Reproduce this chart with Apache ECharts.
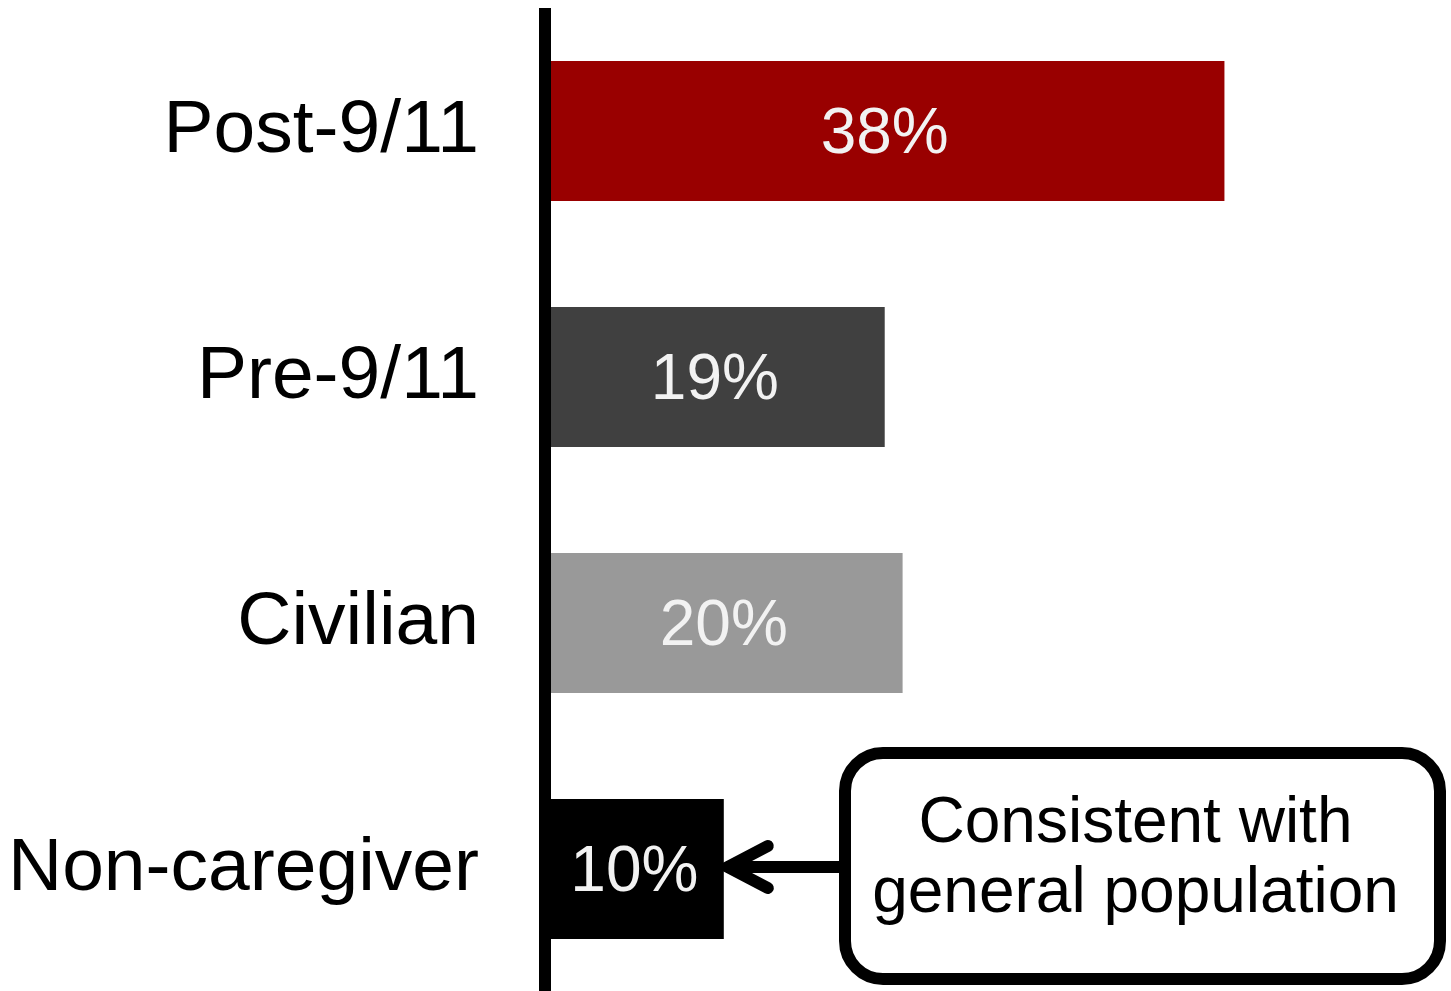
<!DOCTYPE html>
<html>
<head>
<meta charset="utf-8">
<script src="https://cdn.jsdelivr.net/npm/echarts@6/dist/echarts.min.js"></script>
<style>
  html, body { margin: 0; padding: 0; background: #fff; }
  #chart { width: 1451px; height: 991px; }
</style>
</head>
<body>
<div id="chart"></div>
<script>
// data
const categories = ['Post-9/11', 'Pre-9/11', 'Civilian', 'Non-caregiver'];
const values = [38, 19, 20, 10];
const barColors = ['#990000', '#404040', '#999999', '#000000'];
const noteLines = ['Consistent with', 'general population'];
const noteTarget = 'Non-caregiver';

const font = '"Liberation Sans", Arial, sans-serif';

const chart = echarts.init(document.getElementById('chart'));

chart.setOption({
  animation: false,
  backgroundColor: '#fff',
  grid: { left: 545, right: 12, top: 8, height: 984, outerBoundsMode: 'none' },
  xAxis: {
    type: 'value', min: 0, max: 50, show: false,
    splitLine: { show: false }
  },
  yAxis: {
    type: 'category',
    inverse: true,
    z: 5,
    data: categories,
    axisLine: { lineStyle: { color: '#000', width: 12, cap: 'butt' } },
    axisTick: { show: false },
    splitLine: { show: false },
    axisLabel: { fontSize: 75, color: '#000', fontFamily: font, margin: 66 }
  },
  series: [{
    type: 'bar',
    barWidth: 140,
    data: values.map((v, i) => ({ value: v, itemStyle: { color: barColors[i] } })),
    label: {
      show: true,
      position: 'inside',
      offset: [0, 4],
      formatter: '{c}%',
      fontSize: 64,
      color: '#f2f2f2',
      fontFamily: font
    }
  }]
});

// callout box with arrow pointing at the Non-caregiver bar end
const tip = chart.convertToPixel({ gridIndex: 0 }, [values[categories.indexOf(noteTarget)], noteTarget]);
const boxX = 845, boxY = 753, boxW = 595, boxH = 226;
const ax = tip[0] + 4, ay = tip[1] - 2;

chart.setOption({
  graphic: [
    {
      type: 'rect',
      shape: { x: boxX, y: boxY, width: boxW, height: boxH, r: 38 },
      style: { fill: '#fff', stroke: '#000', lineWidth: 12 },
      z: 10
    },
    {
      type: 'text',
      x: boxX + boxW / 2 - 7,
      y: boxY + boxH / 2 - 7,
      style: {
        text: noteLines.join('\n'),
        fontSize: 64,
        lineHeight: 70,
        fontFamily: font,
        fill: '#000',
        align: 'center',
        verticalAlign: 'middle'
      },
      z: 11
    },
    {
      type: 'polyline',
      shape: { points: [[boxX, ay], [ax + 6, ay]] },
      style: { stroke: '#000', lineWidth: 12, fill: null },
      z: 10
    },
    {
      type: 'polyline',
      shape: { points: [[ax + 40, ay - 21], [ax, ay], [ax + 40, ay + 21]] },
      style: { stroke: '#000', lineWidth: 12, fill: null, lineCap: 'round', lineJoin: 'miter' },
      z: 10
    }
  ]
});
</script>
</body>
</html>
